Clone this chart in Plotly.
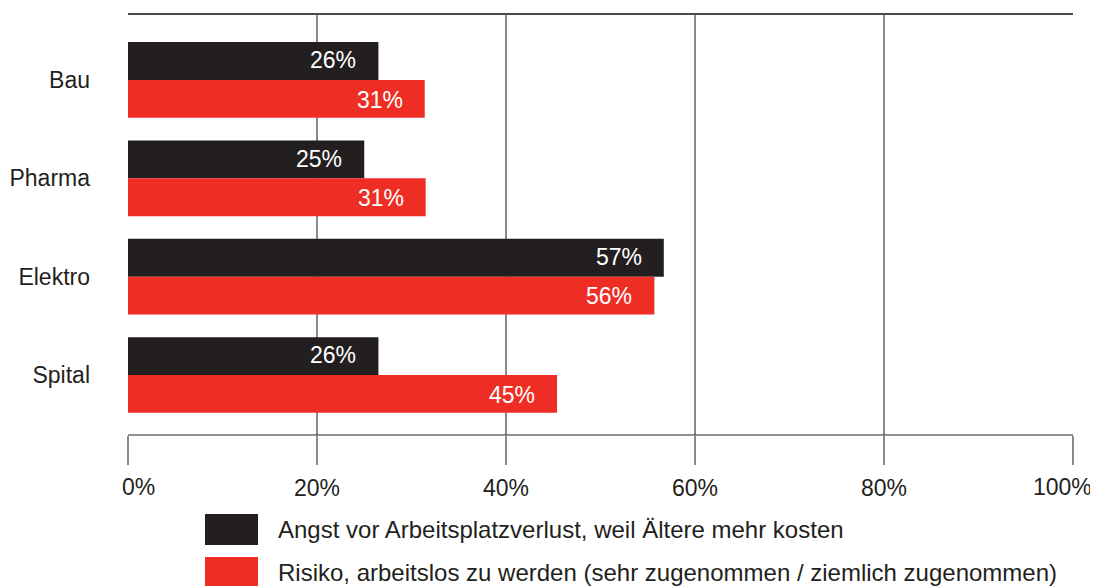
import plotly.graph_objects as go

# data
categories = ["Bau", "Pharma", "Elektro", "Spital"]
angst = [26.5, 25.0, 56.7, 26.5]
risiko = [31.4, 31.5, 55.7, 45.4]
angst_labels = ["26%", "25%", "57%", "26%"]
risiko_labels = ["31%", "31%", "56%", "45%"]
series_names = [
    "Angst vor Arbeitsplatzverlust, weil Ältere mehr kosten",
    "Risiko, arbeitslos zu werden (sehr zugenommen / ziemlich zugenommen)",
]
x_ticks = [0, 20, 40, 60, 80, 100]
x_ticklabels = ["0%", "20%", "40%", "60%", "80%", "100%"]

BLACK = "#231f20"
RED = "#ee2e24"
FONT = "Liberation Sans, Arial, sans-serif"

# page body adds an 8px margin, so the figure is 8px smaller and shifted
OFF = 8
PLOT_H = 421  # plot area height in px
PLOT_W = 945

fig = go.Figure()
for vals, color, name in [(angst, BLACK, series_names[0]), (risiko, RED, series_names[1])]:
    fig.add_trace(go.Bar(
        x=vals, y=categories, orientation="h", name=name,
        marker=dict(color=color, line=dict(width=0)),
        showlegend=False,
    ))

# value labels inside the bar ends
annotations = []
for vals, labels, off in [(angst, angst_labels, -0.2), (risiko, risiko_labels, 0.2)]:
    for i, (v, t) in enumerate(zip(vals, labels)):
        annotations.append(dict(
            x=v, y=i + off, xref="x", yref="y", text=t, showarrow=False,
            xanchor="right", xshift=-20, font=dict(color="white", size=23, family=FONT),
        ))

# the first and last x tick labels sit pulled inward, like in the original
tick_text = list(x_ticklabels)
for idx, shift in [(0, 10), (len(x_ticks) - 1, -11)]:
    annotations.append(dict(
        x=x_ticks[idx], y=-(487 - 435) / PLOT_H, xref="x", yref="paper",
        text=x_ticklabels[idx], showarrow=False, xanchor="center", yanchor="middle",
        xshift=shift, font=dict(color="#231f20", size=23, family=FONT),
    ))
    tick_text[idx] = ""

# legend drawn by hand: square + text
shapes = []
for k, (color, name) in enumerate([(BLACK, series_names[0]), (RED, series_names[1])]):
    y0 = 514 + k * 43
    shapes.append(dict(
        type="rect", xref="paper", yref="paper",
        x0=(205 - 128) / PLOT_W, x1=(258 - 128) / PLOT_W,
        y0=(435 - y0 - 31) / PLOT_H, y1=(435 - y0) / PLOT_H,
        fillcolor=color, line=dict(width=0),
    ))
    annotations.append(dict(
        x=(276 - 128) / PLOT_W, y=(435 - y0 - 15) / PLOT_H, xref="paper", yref="paper",
        text=name, showarrow=False, xanchor="left", yanchor="middle",
        font=dict(color="#231f20", size=24, family=FONT),
    ))

# top border and bottom axis line
shapes.append(dict(type="line", xref="paper", yref="paper", x0=0, x1=1, y0=1, y1=1,
                   line=dict(color="#4a4a4a", width=2)))
shapes.append(dict(type="line", xref="paper", yref="paper", x0=0, x1=1, y0=0, y1=0,
                   line=dict(color="#231f20", width=1.2)))

fig.update_layout(
    width=1098 - OFF, height=586 - OFF,
    margin=dict(l=128 - OFF, r=25, t=14 - OFF, b=151, autoexpand=False),
    paper_bgcolor="white", plot_bgcolor="white",
    barmode="group", bargap=0.23, bargroupgap=0,
    font=dict(family=FONT, size=23, color="#231f20"),
    shapes=shapes, annotations=annotations,
    xaxis=dict(
        range=[0, 100], tickvals=x_ticks, ticktext=tick_text,
        showgrid=True, gridcolor="#8a8a8a", gridwidth=1.5,
        ticks="outside", ticklen=29, tickcolor="#8a8a8a", tickwidth=1.5,
        showline=False, zeroline=False, tickfont=dict(size=23),
        ticklabelstandoff=3, automargin=False,
    ),
    yaxis=dict(
        range=[3.61, -0.67], showgrid=False, zeroline=False, showline=False,
        ticks="", ticklabelstandoff=37, tickfont=dict(size=23), automargin=False,
    ),
)

fig.write_html("out.html")
